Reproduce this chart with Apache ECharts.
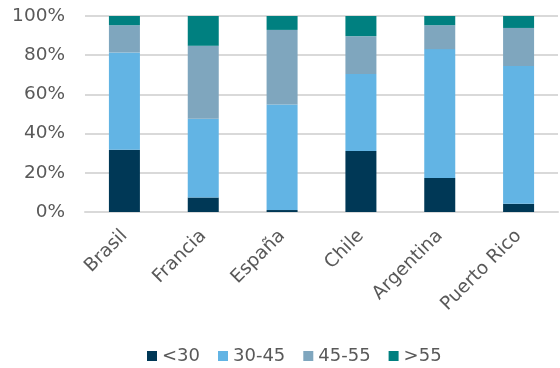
<!DOCTYPE html>
<html>
<head>
<meta charset="utf-8">
<script src="https://cdn.jsdelivr.net/npm/echarts@6/dist/echarts.min.js"></script>
<style>
  html, body { margin: 0; padding: 0; background: #fff; }
  #chart { width: 560px; height: 368px; }
</style>
</head>
<body>
<div id="chart"></div>
<script>
// categorías y porcentajes por tramo de edad
const paises = ['Brasil', 'Francia', 'España', 'Chile', 'Argentina', 'Puerto Rico']
const menos30 = [31.8, 7.4, 1.0, 31.1, 17.3, 4.2]
const de30a45 = [49.6, 40.2, 53.8, 39.3, 65.8, 70.3]
const de45a55 = [13.9, 37.2, 38.1, 19.3, 12.2, 19.4]
const mas55 = [4.7, 15.2, 7.1, 10.3, 4.7, 6.1]

const chart = echarts.init(document.getElementById('chart'))

const fuente = '"DejaVu Sans", sans-serif'
const gris = '#595959'

function serie (name, data, color) {
  return {
    name: name,
    type: 'bar',
    stack: 'total',
    barWidth: 31,
    data: data,
    itemStyle: { color: color },
    emphasis: { disabled: true }
  }
}

chart.setOption({
  animation: false,
  textStyle: { fontFamily: fuente },
  grid: { left: 85, right: 2, top: 16, bottom: 156 },
  legend: {
    top: 342,
    left: 142,
    icon: 'rect',
    itemWidth: 10,
    itemHeight: 10,
    itemGap: 18,
    textStyle: { fontSize: 18, color: gris, fontFamily: fuente },
    data: ['<30', '30-45', '45-55', '>55']
  },
  xAxis: {
    type: 'category',
    data: paises,
    axisLine: { lineStyle: { color: '#d9d9d9', width: 2 } },
    axisTick: { show: false },
    axisLabel: { rotate: 45, fontSize: 18.5, fontFamily: fuente, color: gris, margin: 21, interval: 0 }
  },
  yAxis: {
    type: 'value',
    min: 0,
    max: 100,
    interval: 20,
    axisLine: { show: false },
    axisTick: { show: false },
    axisLabel: { formatter: '{value}%', fontSize: 18.5, fontFamily: fuente, color: gris, margin: 20 },
    splitLine: { lineStyle: { color: '#d9d9d9', width: 2 } }
  },
  series: [
    serie('<30', menos30, '#003856'),
    serie('30-45', de30a45, '#62b4e4'),
    serie('45-55', de45a55, '#7fa6be'),
    serie('>55', mas55, '#008080')
  ]
})
</script>
</body>
</html>
